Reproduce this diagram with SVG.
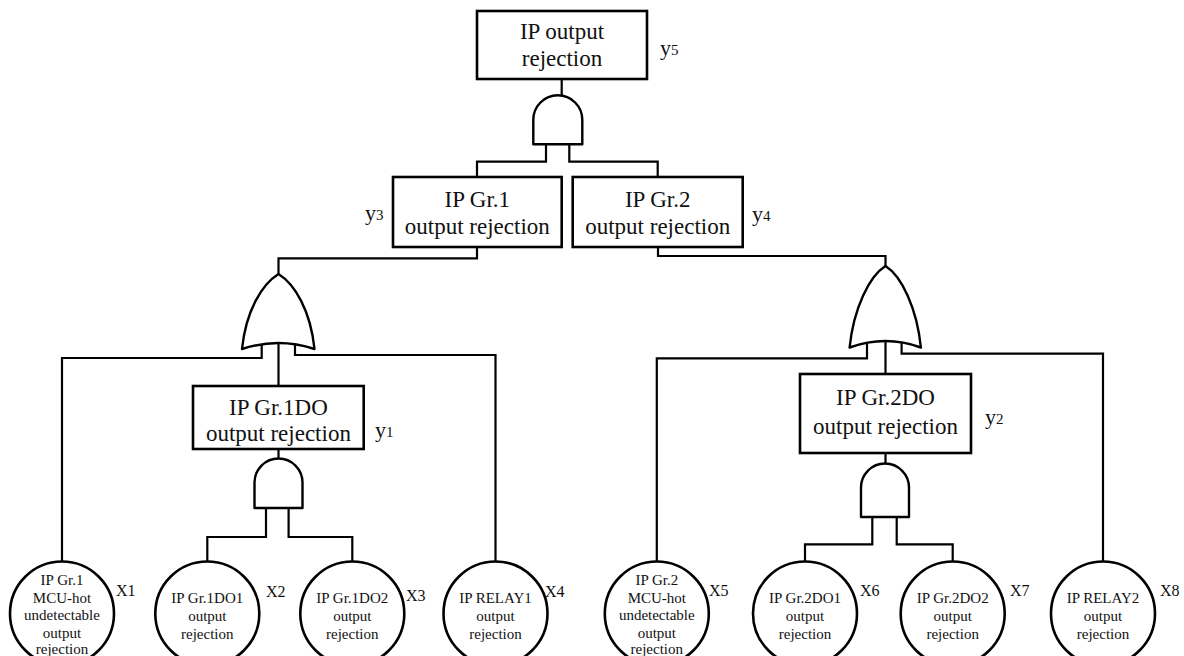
<svg xmlns="http://www.w3.org/2000/svg" width="1184" height="656" viewBox="0 0 1184 656">
<style>
.bg{fill:#ffffff}
.box{fill:#ffffff;stroke:#000;stroke-width:2.6}
.gate{fill:#ffffff;stroke:#000;stroke-width:2.4;stroke-linejoin:round}
.ev{fill:#ffffff;stroke:#000;stroke-width:2.6}
.wire{fill:none;stroke:#000;stroke-width:2.2;stroke-linejoin:miter}
.t{font-family:"Liberation Serif","Times New Roman",serif;font-size:23px;fill:#111;text-anchor:middle}
.c{font-family:"Liberation Serif","Times New Roman",serif;font-size:15px;fill:#111;text-anchor:middle}
.lab{font-family:"Liberation Serif","Times New Roman",serif;font-size:22px;fill:#111}
.sub{font-size:15px}
.xl{font-family:"Liberation Serif","Times New Roman",serif;font-size:16px;fill:#111}
</style>
<rect class="bg" x="0" y="0" width="1184" height="656"/>
<g id="connectors">
<path class="wire" d="M561.7 79 V96"/>
<path class="wire" d="M546 140 V161.7 H477 V177"/>
<path class="wire" d="M569.3 140 V161.7 H657.7 V177"/>
<path class="wire" d="M477 247 V258.3 H278.5 V275"/>
<path class="wire" d="M658 247 V256 H885.5 V267"/>
<path class="wire" d="M261.7 335 V358 H62 V562"/>
<path class="wire" d="M278.5 335 V386"/>
<path class="wire" d="M295 335 V355 H495.5 V562"/>
<path class="wire" d="M278.5 449 V459"/>
<path class="wire" d="M266 500 V537 H207.3 V562"/>
<path class="wire" d="M288.6 500 V537 H352.3 V562"/>
<path class="wire" d="M867 330 V358.3 H656.8 V562"/>
<path class="wire" d="M885.5 330 V374"/>
<path class="wire" d="M901.6 330 V353.6 H1103 V562"/>
<path class="wire" d="M885.5 453 V464"/>
<path class="wire" d="M872.3 510 V544.4 H805 V562"/>
<path class="wire" d="M896.7 510 V544.4 H952.7 V562"/>
</g>
<g id="y5">
<rect class="box" x="477" y="11" width="170" height="68"/>
<text class="t" x="562" y="39">IP output</text>
<text class="t" x="562" y="66">rejection</text>
<text class="lab" x="660" y="55">y<tspan class="sub">5</tspan></text>
</g>
<g id="gate-and-y5">
<path class="gate" d="M533.3 144.3 V119.8 A24.5 24.5 0 0 1 582.3 119.8 V144.3 Z"/>
</g>
<g id="y3">
<rect class="box" x="393" y="177" width="168.7" height="70"/>
<text class="t" x="477.3" y="206.5">IP Gr.1</text>
<text class="t" x="477.3" y="233.5">output rejection</text>
<text class="lab" x="365" y="220">y<tspan class="sub">3</tspan></text>
</g>
<g id="y4">
<rect class="box" x="572.7" y="177" width="170" height="70"/>
<text class="t" x="657.7" y="206.5">IP Gr.2</text>
<text class="t" x="657.7" y="233.5">output rejection</text>
<text class="lab" x="752" y="221">y<tspan class="sub">4</tspan></text>
</g>
<g id="gate-or-y3">
<path class="gate" d="M242 349 C246 310 262.5 284 278.5 274 C294.5 284 310.5 310 314.5 349 Q278.5 337 242 349 Z"/>
</g>
<g id="gate-or-y4">
<path class="gate" d="M849.6 347.5 C853.6 308 869.5 276 885.5 266 C901.5 276 916.9 308 920.9 347.5 Q885.5 334.5 849.6 347.5 Z"/>
</g>
<g id="y1">
<rect class="box" x="193" y="386" width="170.7" height="63"/>
<text class="t" x="278.4" y="414.5">IP Gr.1DO</text>
<text class="t" x="278.4" y="441">output rejection</text>
<text class="lab" x="375" y="437">y<tspan class="sub">1</tspan></text>
</g>
<g id="gate-and-y1">
<path class="gate" d="M254.5 508 V482.5 A24 24 0 0 1 302.5 482.5 V508 Z"/>
</g>
<g id="y2">
<rect class="box" x="800" y="374" width="171" height="79"/>
<text class="t" x="885.5" y="405">IP Gr.2DO</text>
<text class="t" x="885.5" y="434">output rejection</text>
<text class="lab" x="985" y="424">y<tspan class="sub">2</tspan></text>
</g>
<g id="gate-and-y2">
<path class="gate" d="M861 517 V487.5 A24 24 0 0 1 909 487.5 V517 Z"/>
</g>
<g id="x1">
<circle class="ev" cx="62" cy="613.5" r="52"/>
<text class="c" x="62" y="585">IP Gr.1</text>
<text class="c" x="62" y="602.5">MCU-hot</text>
<text class="c" x="62" y="620">undetectable</text>
<text class="c" x="62" y="637.5">output</text>
<text class="c" x="62" y="654">rejection</text>
<text class="xl" x="116" y="596">X1</text>
</g>
<g id="x2">
<circle class="ev" cx="207.3" cy="613.5" r="52"/>
<text class="c" x="207.3" y="603">IP Gr.1DO1</text>
<text class="c" x="207.3" y="621">output</text>
<text class="c" x="207.3" y="639">rejection</text>
<text class="xl" x="266" y="597">X2</text>
</g>
<g id="x3">
<circle class="ev" cx="352.3" cy="613.5" r="52"/>
<text class="c" x="352.3" y="603">IP Gr.1DO2</text>
<text class="c" x="352.3" y="621">output</text>
<text class="c" x="352.3" y="639">rejection</text>
<text class="xl" x="406" y="601">X3</text>
</g>
<g id="x4">
<circle class="ev" cx="495.5" cy="613.5" r="52"/>
<text class="c" x="495.5" y="603">IP RELAY1</text>
<text class="c" x="495.5" y="621">output</text>
<text class="c" x="495.5" y="639">rejection</text>
<text class="xl" x="545" y="597">X4</text>
</g>
<g id="x5">
<circle class="ev" cx="656.8" cy="613.5" r="52"/>
<text class="c" x="656.8" y="585">IP Gr.2</text>
<text class="c" x="656.8" y="602.5">MCU-hot</text>
<text class="c" x="656.8" y="620">undetectable</text>
<text class="c" x="656.8" y="637.5">output</text>
<text class="c" x="656.8" y="654">rejection</text>
<text class="xl" x="709" y="596">X5</text>
</g>
<g id="x6">
<circle class="ev" cx="805" cy="613.5" r="52"/>
<text class="c" x="805" y="603">IP Gr.2DO1</text>
<text class="c" x="805" y="621">output</text>
<text class="c" x="805" y="639">rejection</text>
<text class="xl" x="860" y="596">X6</text>
</g>
<g id="x7">
<circle class="ev" cx="952.7" cy="613.5" r="52"/>
<text class="c" x="952.7" y="603">IP Gr.2DO2</text>
<text class="c" x="952.7" y="621">output</text>
<text class="c" x="952.7" y="639">rejection</text>
<text class="xl" x="1010" y="596">X7</text>
</g>
<g id="x8">
<circle class="ev" cx="1103" cy="613.5" r="52"/>
<text class="c" x="1103" y="603">IP RELAY2</text>
<text class="c" x="1103" y="621">output</text>
<text class="c" x="1103" y="639">rejection</text>
<text class="xl" x="1160" y="596">X8</text>
</g>
</svg>
